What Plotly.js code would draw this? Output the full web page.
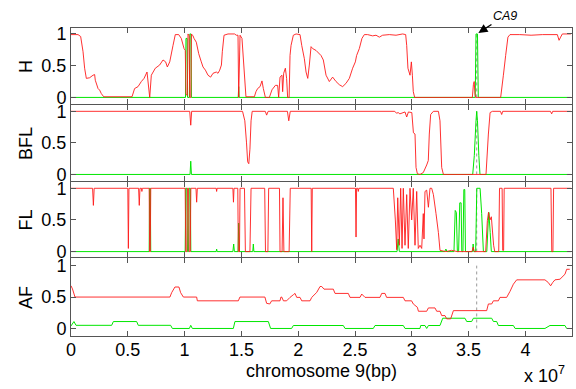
<!DOCTYPE html>
<html>
<head>
<meta charset="utf-8">
<script src="https://cdn.plot.ly/plotly-3.0.1.min.js"></script>
<style>html,body{margin:0;padding:0;background:#fff;}#chart{width:576px;height:389px;}</style>
</head>
<body>
<div id="chart"></div>
<script>
// positions in units of 10^7 bp, values as [position, value]
const panelNames = ['H', 'BFL', 'FL', 'AF'];
const xTickVals = [0, 0.5, 1, 1.5, 2, 2.5, 3, 3.5, 4];
const xTickText = ['0', '0.5', '1', '1.5', '2', '2.5', '3', '3.5', '4'];
const yTickVals = [0, 0.5, 1];
const yTickText = ['0', '0.5', '1'];
const ca9Pos = 3.571;
const ca9Line = [[ca9Pos, 0], [ca9Pos, 1]];

const hRed = [[0,0.99],[0.062,0.99],[0.085,0.96],[0.106,0.72],[0.12,0.46],[0.135,0.30],[0.164,0.31],[0.194,0.35],[0.208,0.36],[0.214,0.27],[0.238,0.14],[0.252,0.115],[0.267,0.06],[0.288,0.01],[0.537,0.01],[0.56,0.14],[0.59,0.17],[0.619,0.25],[0.643,0.30],[0.669,0.40],[0.693,0.0],[0.707,0.35],[0.742,0.46],[0.78,0.51],[0.81,0.59],[0.833,0.56],[0.848,0.48],[0.869,0.56],[0.898,0.82],[0.918,0.99],[0.948,0.99],[0.971,0.93],[0.995,0.77],[1.006,0.74],[1.012,0.05],[1.024,0.03],[1.03,1.0],[1.04,0.97],[1.045,0.0],[1.055,0.0],[1.06,1.0],[1.074,0.97],[1.083,0.93],[1.103,0.87],[1.124,0.69],[1.147,0.56],[1.162,0.48],[1.183,0.43],[1.206,0.35],[1.229,0.32],[1.25,0.38],[1.279,0.40],[1.294,0.38],[1.309,0.43],[1.324,0.51],[1.332,0.72],[1.347,0.98],[1.382,1.0],[1.44,1.0],[1.455,0.98],[1.47,0.98],[1.476,0.0],[1.488,0.98],[1.505,0.93],[1.54,0.01],[1.614,0.01],[1.628,0.09],[1.643,0.14],[1.664,0.17],[1.681,0.26],[1.693,0.14],[1.711,0.0],[1.746,0.0],[1.769,0.12],[1.799,0.19],[1.819,0.19],[1.828,0.0],[1.84,0.32],[1.857,0.35],[1.863,0.09],[1.872,0.38],[1.887,0.46],[1.898,0.30],[1.907,0.0],[1.92,0.0],[1.928,0.66],[1.937,0.82],[1.957,0.98],[1.981,1.0],[2.016,0.99],[2.031,0.82],[2.054,0.61],[2.069,0.40],[2.084,0.30],[2.098,0.51],[2.113,0.80],[2.127,0.77],[2.157,0.74],[2.201,0.66],[2.221,0.59],[2.245,0.35],[2.274,0.25],[2.303,0.32],[2.333,0.25],[2.362,0.20],[2.391,0.17],[2.42,0.22],[2.45,0.30],[2.479,0.46],[2.503,0.56],[2.514,0.66],[2.538,0.77],[2.561,0.93],[2.582,0.99],[2.611,0.99],[2.655,0.97],[2.685,0.98],[2.714,0.95],[2.743,0.98],[2.802,0.99],[2.861,0.98],[2.919,1.0],[2.946,0.99],[2.955,0.82],[2.966,0.46],[2.984,0.35],[2.996,0.56],[3.005,0.35],[3.013,0.09],[3.025,0.0],[3.533,0.0],[3.542,0.2],[3.549,0.25],[3.556,0.05],[3.562,0.0],[3.782,0.0],[3.806,0.35],[3.826,0.66],[3.846,0.95],[3.864,0.99],[3.95,0.99],[4.05,0.98],[4.15,0.99],[4.281,0.99],[4.296,0.9],[4.31,0.95],[4.325,1.0],[4.4,1.0]];
const hGreen = [[0,0],[1.008,0],[1.012,0.93],[1.022,0.93],[1.026,0],[1.042,0],[1.046,1.0],[1.056,1.0],[1.06,0],[1.472,0],[1.476,0.17],[1.48,0],[3.558,0],[3.565,1.0],[3.578,1.0],[3.585,0],[4.4,0]];

const bflRed = [[0,1],[1.045,1],[1.054,0.78],[1.062,1],[1.51,1],[1.53,0.85],[1.545,0.5],[1.555,0.2],[1.565,0.17],[1.575,0.4],[1.585,0.85],[1.595,1],[1.71,1],[1.722,0.94],[1.735,1],[1.905,1],[1.917,0.85],[1.93,1],[2.85,1],[2.865,0.97],[2.88,0.98],[2.895,0.96],[2.94,0.99],[2.955,0.91],[2.97,0.99],[3.0,0.98],[3.014,0.66],[3.028,0.64],[3.037,0.11],[3.049,0.01],[3.072,0],[3.101,0.03],[3.131,0.15],[3.145,0.22],[3.154,0.64],[3.166,0.95],[3.19,1.0],[3.234,1.0],[3.248,0.85],[3.263,0.11],[3.278,0],[3.653,0],[3.674,0.64],[3.689,0.98],[3.71,1.0],[3.78,1.0],[3.791,0.95],[3.8,1.0],[4.22,1.0],[4.231,0.96],[4.24,1.0],[4.4,1.0]];
const bflGreen = [[0,0],[1.048,0],[1.054,0.21],[1.06,0],[3.536,0],[3.55,0.3],[3.565,0.85],[3.571,1.0],[3.578,0.85],[3.59,0.3],[3.6,0],[4.4,0]];

const flRed = [[0,1],[0.19,1],[0.197,0.73],[0.204,1],[0.5,1],[0.505,0.05],[0.51,1],[0.595,1],[0.601,0.73],[0.607,1],[0.62,1],[0.624,0.95],[0.628,1],[0.688,1],[0.692,0],[0.698,0],[0.702,1],[1.005,1],[1.01,0],[1.02,0],[1.025,1],[1.035,1],[1.04,0],[1.05,0],[1.055,1],[1.1,1],[1.106,0.78],[1.112,1],[1.278,1],[1.282,0.95],[1.286,1],[1.425,1],[1.43,0.78],[1.435,1],[1.468,1],[1.473,0],[1.483,0],[1.488,1],[1.527,1],[1.535,0],[1.575,0],[1.585,1],[1.705,1],[1.712,0],[1.733,0],[1.74,1],[1.835,1],[1.84,0],[1.858,0],[1.866,0.85],[1.874,0],[1.92,0],[1.93,1],[2.114,1],[2.119,0],[2.124,1],[2.504,1],[2.509,0.23],[2.514,1],[2.524,1],[2.529,0.95],[2.534,1],[2.837,1],[2.855,0.5],[2.867,0.03],[2.876,0.85],[2.89,0.1],[2.902,1.0],[2.914,0.05],[2.925,1.0],[2.94,0.1],[2.955,0.9],[2.969,0.05],[2.984,1.0],[2.999,0.5],[3.013,1.0],[3.028,0.1],[3.043,0.95],[3.057,0.05],[3.072,0.1],[3.087,0.05],[3.101,0.6],[3.107,0.2],[3.116,0.95],[3.131,0.97],[3.146,0.7],[3.16,1.0],[3.175,1.0],[3.19,0.9],[3.213,0.6],[3.234,0.3],[3.248,0.02],[3.3,0.0],[3.35,0.02],[3.4,0.0],[3.53,0.0],[3.54,0.07],[3.55,0.0],[3.65,0.0],[3.665,0.49],[3.675,0.62],[3.688,0.5],[3.7,0.55],[3.72,0.1],[3.73,0.0],[3.765,0.0],[3.772,1.0],[3.795,1.0],[3.8,0.02],[3.808,0.02],[3.813,1.0],[4.225,1.0],[4.232,0.0],[4.242,0.0],[4.248,1.0],[4.4,1.0]];
const flGreen = [[0,0],[0.688,0],[0.692,1],[0.698,1],[0.702,0],[1.005,0],[1.01,1],[1.02,1],[1.025,0],[1.035,0],[1.04,1],[1.05,1],[1.055,0],[1.278,0],[1.282,0.04],[1.286,0],[1.425,0],[1.432,0.12],[1.438,0],[1.47,0],[1.476,0.45],[1.482,0],[1.6,0],[1.605,0.12],[1.61,0],[2.87,0],[2.88,0.2],[2.89,0],[3.29,0],[3.3,0.04],[3.31,0],[3.371,0],[3.382,0.65],[3.392,0.62],[3.401,0],[3.412,0],[3.422,0.77],[3.434,0.77],[3.44,0],[3.45,0],[3.458,0.98],[3.466,0.98],[3.472,0],[3.535,0],[3.54,0.12],[3.545,0],[3.562,0],[3.572,1.0],[3.601,1.0],[3.615,0.6],[3.63,0],[3.66,0],[3.672,0.45],[3.678,0.62],[3.69,0.3],[3.7,0],[4.4,0]];

const afRed = [[0,0.68],[0.013,0.63],[0.035,0.5],[0.871,0.5],[0.886,0.57],[0.915,0.66],[0.95,0.66],[0.965,0.57],[0.989,0.5],[1.106,0.5],[1.112,0.44],[1.473,0.44],[1.487,0.5],[1.707,0.5],[1.722,0.4],[1.75,0.39],[1.766,0.44],[1.84,0.44],[1.848,0.5],[1.855,0.5],[1.87,0.44],[1.898,0.44],[1.928,0.495],[1.957,0.537],[1.972,0.558],[1.987,0.495],[2.016,0.495],[2.031,0.44],[2.104,0.44],[2.119,0.495],[2.163,0.574],[2.192,0.668],[2.207,0.668],[2.227,0.626],[2.309,0.626],[2.324,0.558],[2.441,0.558],[2.456,0.495],[2.544,0.495],[2.559,0.548],[2.588,0.495],[2.72,0.495],[2.735,0.558],[2.764,0.558],[2.778,0.495],[2.925,0.495],[2.94,0.44],[2.998,0.44],[3.013,0.39],[3.049,0.337],[3.058,0.274],[3.131,0.274],[3.146,0.327],[3.204,0.327],[3.219,0.274],[3.248,0.274],[3.263,0.205],[3.292,0.205],[3.307,0.153],[3.342,0.153],[3.366,0.284],[3.659,0.284],[3.674,0.39],[3.703,0.39],[3.718,0.44],[3.762,0.44],[3.776,0.495],[3.835,0.495],[3.864,0.59],[3.894,0.705],[3.923,0.774],[4.172,0.774],[4.201,0.732],[4.222,0.679],[4.24,0.732],[4.26,0.774],[4.304,0.784],[4.348,0.863],[4.363,0.942],[4.39,0.942]];
const afGreen = [[0,0.04],[0.026,0.11],[0.044,0.05],[0.358,0.05],[0.373,0.11],[0.578,0.11],[0.592,0.05],[0.877,0.05],[0.892,0.0],[1.042,0.0],[1.054,0.05],[1.068,0.0],[1.429,0.0],[1.443,0.11],[1.737,0.11],[1.757,0.0],[1.942,0.0],[1.957,0.047],[2.397,0.047],[2.412,0.0],[2.661,0.0],[2.676,0.047],[2.925,0.047],[2.94,0.0],[3.072,0.0],[3.078,0.047],[3.116,0.047],[3.131,0.0],[3.146,0.047],[3.248,0.047],[3.272,0.163],[3.468,0.163],[3.483,0.111],[3.527,0.111],[3.542,0.163],[3.703,0.163],[3.718,0.111],[3.747,0.111],[3.762,0.047],[3.894,0.047],[3.909,0.0],[4.172,0.0],[4.216,0.047],[4.348,0.047],[4.363,0.0],[4.39,0.0]];

const panelRed = [hRed, bflRed, flRed, afRed];
const panelGreen = [hGreen, bflGreen, flGreen, afGreen];

const RED = '#ff1a1a', GREEN = '#00e600', AX = '#555';
const FONT = 'Liberation Sans, Arial, sans-serif';
const px = 1 / 308;
const domains = [[0.753, 1], [0.503, 0.753 - px], [0.2555, 0.503 - px], [0, 0.2555 - px]];
const yRanges = [[-0.105, 1.094], [-0.105, 1.099], [-0.09, 1.098], [-0.12, 1.117]];

const traces = [];
const layout = {
  width: 576, height: 389,
  margin: {l: 71, r: 4, t: 28, b: 53},
  paper_bgcolor: '#fff', plot_bgcolor: '#fff',
  showlegend: false,
  font: {family: FONT, size: 18, color: '#000'},
  annotations: []
};

panelNames.forEach((name, i) => {
  const n = i === 0 ? '' : String(i + 1);
  const xa = 'x' + n, ya = 'y' + n;
  const line = (pts, color, w, dash) => ({
    type: 'scatter', mode: 'lines', xaxis: xa, yaxis: ya,
    x: pts.map(p => p[0]), y: pts.map(p => p[1]),
    line: {color: color, width: w, dash: dash || 'solid', simplify: false},
    hoverinfo: 'skip'
  });
  traces.push(line(ca9Line, '#999', 1, 'dot'));
  traces.push(line(panelGreen[i], GREEN, 1));
  traces.push(line(panelRed[i], RED, 0.9));
  layout['xaxis' + n] = {
    anchor: ya, range: [0, 4.41], tickvals: xTickVals, ticktext: xTickText,
    showticklabels: i === 3, ticks: 'inside', ticklen: 5, tickcolor: AX,
    showline: true, linecolor: AX, linewidth: 1, mirror: 'ticks',
    ticklabelstandoff: -3,
    showgrid: false, zeroline: false, tickfont: {family: FONT, size: 18, color: '#000'}
  };
  layout['yaxis' + n] = {
    anchor: xa, domain: domains[i], range: yRanges[i],
    tickvals: yTickVals, ticktext: yTickText, ticks: 'inside', ticklen: 5, tickcolor: AX,
    showline: true, linecolor: AX, linewidth: 1, mirror: 'ticks',
    showgrid: false, zeroline: false, tickfont: {family: FONT, size: 18, color: '#000'}
  };
  layout.annotations.push({
    text: name, xref: 'paper', x: -0.09, yref: ya + ' domain', y: 0.5,
    xanchor: 'center', yanchor: 'middle', textangle: -90, showarrow: false,
    font: {family: FONT, size: 18, color: '#000'}
  });
});

layout.annotations.push({
  text: 'chromosome 9(bp)', xref: 'paper', yref: 'paper', x: 0.5, y: -0.114,
  xanchor: 'center', yanchor: 'middle', showarrow: false,
  font: {family: FONT, size: 18, color: '#000'}
});
layout.annotations.push({
  text: 'x 10<sup>7</sup>', xref: 'paper', yref: 'paper', x: 0.99, y: -0.125,
  xanchor: 'right', yanchor: 'middle', showarrow: false,
  font: {family: FONT, size: 18, color: '#000'}
});
layout.annotations.push({
  text: '<i>CA9</i>', xref: 'x', yref: 'y', x: ca9Pos, y: 1.0,
  ax: 28, ay: -18, showarrow: true, arrowhead: 2, arrowsize: 1.4, arrowwidth: 1.3,
  arrowcolor: '#000', standoff: 2,
  font: {family: FONT, size: 12.5, color: '#000'}
});

Plotly.newPlot('chart', traces, layout, {staticPlot: true, displayModeBar: false});
</script>
</body>
</html>
